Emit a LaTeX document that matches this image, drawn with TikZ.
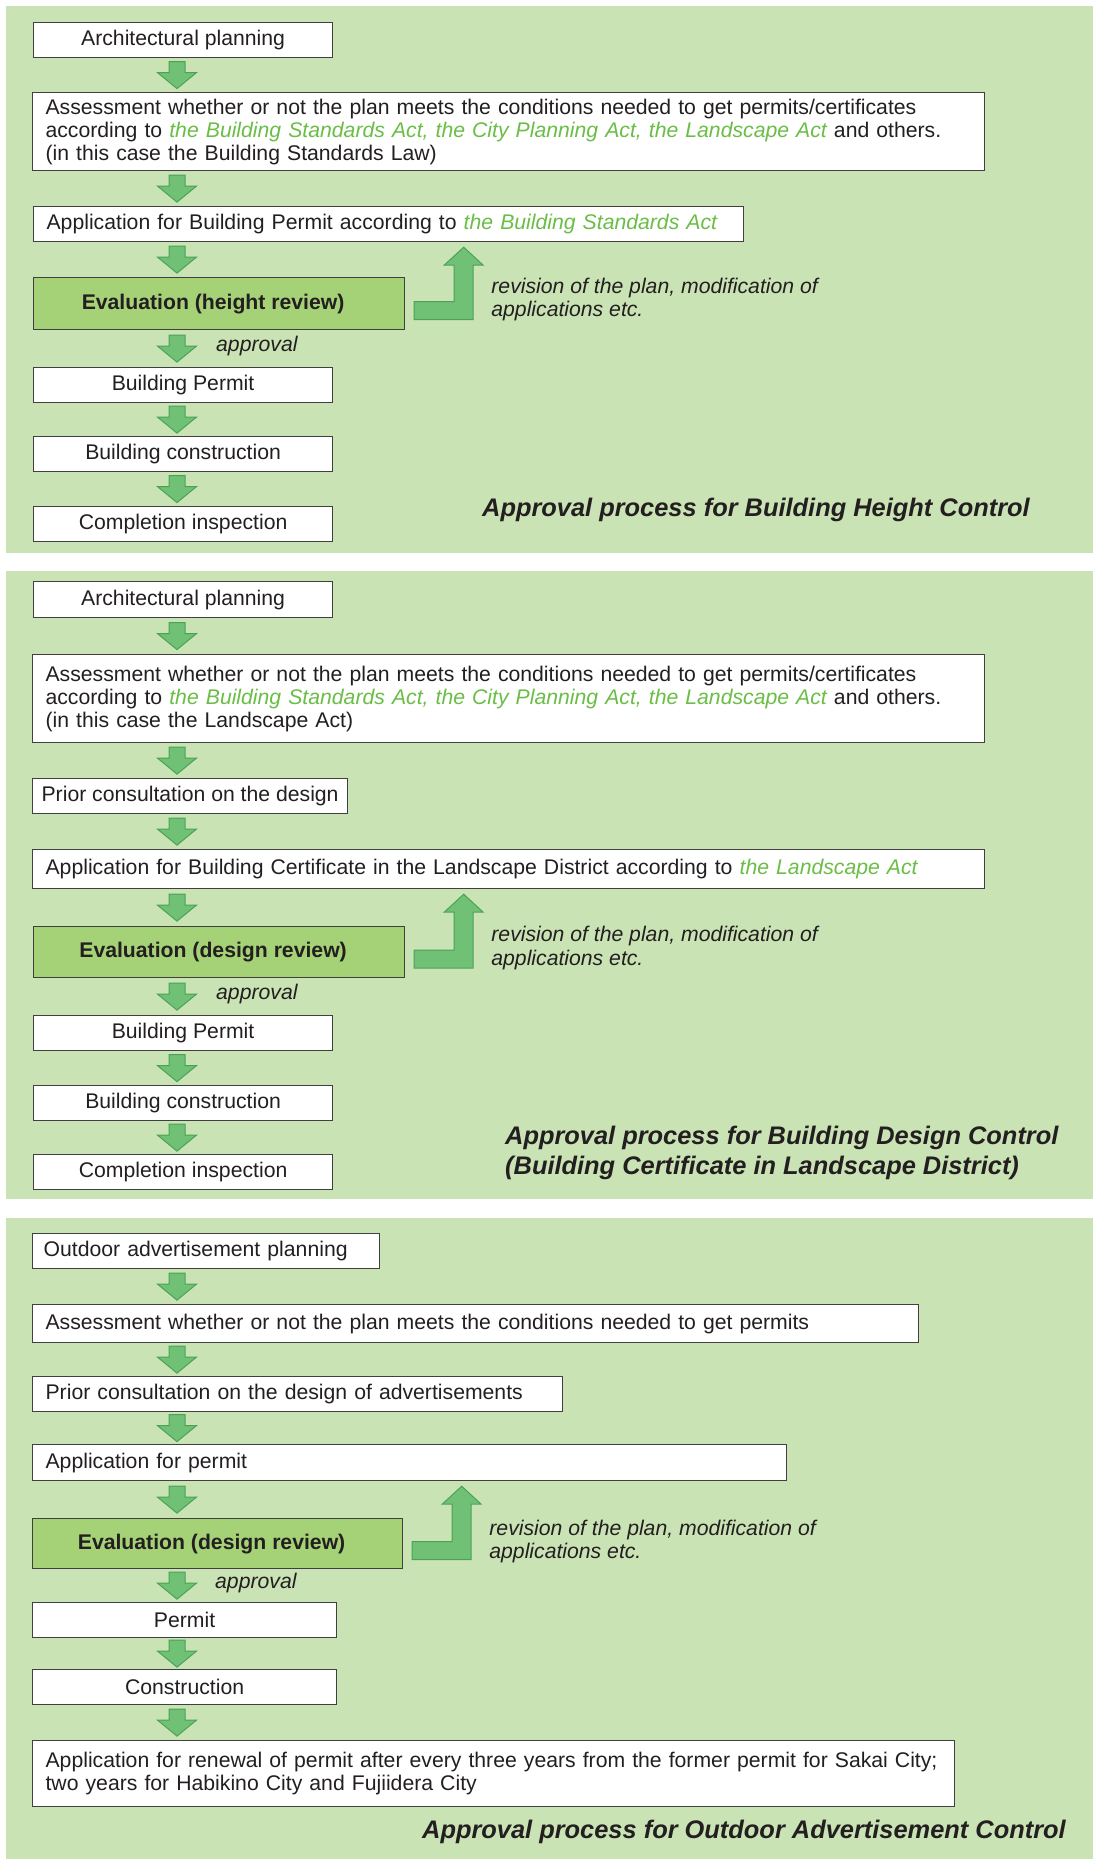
\documentclass[tikz,border=0pt]{standalone}
\usepackage{fontspec}
\setmainfont{Liberation Sans}
\usepackage{tikz}
\usetikzlibrary{calc,positioning}
\definecolor{panelgreen}{RGB}{202,227,181}
\definecolor{evalgreen}{RGB}{166,210,119}
\definecolor{arrowfill}{RGB}{112,192,118}
\definecolor{arrowedge}{RGB}{74,163,84}
\definecolor{lawgreen}{RGB}{106,190,70}
\definecolor{inkgray}{RGB}{35,31,32}
\newcommand{\lawname}[1]{\textcolor{lawgreen}{\itshape #1}}

\begin{document}
\begin{tikzpicture}[x=1pt,y=-1pt]
      \useasboundingbox (0,0) rectangle (1093,1859);
      \begin{scope}
        \tikzstyle{panel} = [fill=panelgreen, draw=none]
        \tikzstyle{box} = [draw=black!75, line width=1.2pt, fill=white, text=inkgray, anchor=north west, inner sep=0pt, font=\fontsize{21.2}{23}\selectfont]
        \tikzstyle{lbox} = [box, align=left, inner xsep=13pt]
        \tikzstyle{evalbox} = [box, fill=evalgreen, font=\fontsize{21.2}{23}\selectfont\bfseries, execute at begin node={\hspace*{-12pt}}]
        \tikzstyle{note} = [inner sep=0pt, text=inkgray, anchor=west, align=left, font=\fontsize{21.2}{23.5}\selectfont\itshape]
        \tikzstyle{caption} = [note, font=\fontsize{25.4}{30}\selectfont\bfseries\itshape]
        \tikzstyle{flow} = [draw=arrowedge, fill=arrowfill, line width=1pt, line join=miter,
          to path={($(\tikztostart)!0.5!(\tikztotarget)$) ++(-8pt,13.5pt) -- ++(16pt,0pt) -- ++(0pt,-11pt)
            -- ++(11.5pt,0pt) -- ++(-19.5pt,-16pt) -- ++(-19.5pt,16pt) -- ++(11.5pt,0pt) -- cycle}]
        \tikzstyle{backflow} = [draw=arrowedge, fill=arrowfill, line width=1pt, line join=miter,
          to path={let \p1=(\tikztostart), \p2=(\tikztotarget) in
            (\x1+9pt,\y1+2pt) -- (\x1+49pt,\y1+2pt) -- (\x1+49pt,\y2-23pt) -- (\x1+39pt,\y2-23pt)
            -- (\x1+58.5pt,\y2-5pt) -- (\x1+78pt,\y2-23pt) -- (\x1+68pt,\y2-23pt)
            -- (\x1+68pt,\y1-16pt) -- (\x1+9pt,\y1-16pt) -- cycle}]

        \coordinate (ax) at (177,0);

        % height control
        \fill[panel] (6,6) rectangle (1093,553);
        \node[box, minimum width=299pt, minimum height=35pt] (plan1) at (33,22) {Architectural planning};
        \node[lbox, text width=926pt, minimum height=78pt] (check1) at (32,92) {Assessment whether or not the plan meets the conditions needed to get permits/certificates\\according to \lawname{the Building Standards Act, the City Planning Act, the Landscape Act} and others.\\(in this case the Building Standards Law)};
        \node[lbox, text width=684pt, minimum height=35pt] (apply1) at (33,206) {Application for Building Permit according to \lawname{the Building Standards Act}};
        \node[evalbox, minimum width=371pt, minimum height=52pt] (eval1) at (33,277) {Evaluation (height review)};
        \node[box, minimum width=299pt, minimum height=35pt] (permit1) at (33,367) {Building Permit};
        \node[box, minimum width=299pt, minimum height=35pt] (build1) at (33,436) {Building construction};
        \node[box, minimum width=299pt, minimum height=35pt] (done1) at (33,506) {Completion inspection};
        \node[note] (ok1) at (216,346) {approval};
        \node[note, right=86pt of eval1.east, yshift=4pt] (redo1) {revision of the plan, modification of\\applications etc.};
        \node[caption] (title1) at (482,510) {Approval process for Building Height Control};

        % design control
        \fill[panel] (6,571) rectangle (1093,1199);
        \node[box, minimum width=299pt, minimum height=36pt] (plan2) at (33,581) {Architectural planning};
        \node[lbox, text width=926pt, minimum height=88pt] (check2) at (32,654) {Assessment whether or not the plan meets the conditions needed to get permits/certificates\\according to \lawname{the Building Standards Act, the City Planning Act, the Landscape Act} and others.\\(in this case the Landscape Act)};
        \node[box, minimum width=315pt, minimum height=35pt] (consult2) at (32,778) {Prior consultation on the design};
        \node[lbox, text width=926pt, minimum height=39pt] (apply2) at (32,849) {Application for Building Certificate in the Landscape District according to \lawname{the Landscape Act}};
        \node[evalbox, minimum width=371pt, minimum height=51pt] (eval2) at (33,926) {Evaluation (design review)};
        \node[box, minimum width=299pt, minimum height=35pt] (permit2) at (33,1015) {Building Permit};
        \node[box, minimum width=299pt, minimum height=35pt] (build2) at (33,1085) {Building construction};
        \node[box, minimum width=299pt, minimum height=35pt] (done2) at (33,1154) {Completion inspection};
        \node[note] (ok2) at (216,994) {approval};
        \node[note, right=86pt of eval2.east, yshift=4pt] (redo2) {revision of the plan, modification of\\applications etc.};
        \node[caption] (title2) at (505,1153) {Approval process for Building Design Control\\(Building Certificate in Landscape District)};

        % outdoor advertisement control
        \fill[panel] (6,1218) rectangle (1093,1859);
        \node[lbox, inner xsep=11pt, text width=325pt, minimum height=35pt] (plan3) at (32,1233) {Outdoor advertisement planning};
        \node[lbox, text width=860pt, minimum height=38pt] (check3) at (32,1304) {Assessment whether or not the plan meets the conditions needed to get permits};
        \node[lbox, text width=504pt, minimum height=35pt] (consult3) at (32,1376) {Prior consultation on the design of advertisements};
        \node[lbox, text width=728pt, minimum height=36pt] (apply3) at (32,1444) {Application for permit};
        \node[evalbox, minimum width=370pt, minimum height=50pt] (eval3) at (32,1518) {Evaluation (design review)};
        \node[box, minimum width=304pt, minimum height=35pt] (permit3) at (32,1602) {Permit};
        \node[box, minimum width=304pt, minimum height=35pt] (build3) at (32,1669) {Construction};
        \node[lbox, text width=896pt, minimum height=66pt] (renew3) at (32,1740) {Application for renewal of permit after every three years from the former permit for Sakai City;\\two years for Habikino City and Fujiidera City};
        \node[note] (ok3) at (215,1583) {approval};
        \node[note, right=86pt of eval3.east, yshift=2pt] (redo3) {revision of the plan, modification of\\applications etc.};
        \node[caption] (title3) at (422,1832) {Approval process for Outdoor Advertisement Control};

        \path
        (plan1.south -| ax) edge[flow] (check1.north -| ax)
        (check1.south -| ax) edge[flow] (apply1.north -| ax)
        (apply1.south -| ax) edge[flow] (eval1.north -| ax)
        (eval1.south -| ax) edge[flow] (permit1.north -| ax)
        (permit1.south -| ax) edge[flow] (build1.north -| ax)
        (build1.south -| ax) edge[flow] (done1.north -| ax)
        (eval1.east) edge[backflow] (apply1.south)
        (plan2.south -| ax) edge[flow] (check2.north -| ax)
        (check2.south -| ax) edge[flow] (consult2.north -| ax)
        (consult2.south -| ax) edge[flow] (apply2.north -| ax)
        (apply2.south -| ax) edge[flow] (eval2.north -| ax)
        (eval2.south -| ax) edge[flow] (permit2.north -| ax)
        (permit2.south -| ax) edge[flow] (build2.north -| ax)
        (build2.south -| ax) edge[flow] (done2.north -| ax)
        (eval2.east) edge[backflow] (apply2.south)
        (plan3.south -| ax) edge[flow] (check3.north -| ax)
        (check3.south -| ax) edge[flow] (consult3.north -| ax)
        (consult3.south -| ax) edge[flow] (apply3.north -| ax)
        (apply3.south -| ax) edge[flow] (eval3.north -| ax)
        (eval3.south -| ax) edge[flow] (permit3.north -| ax)
        (permit3.south -| ax) edge[flow] (build3.north -| ax)
        (build3.south -| ax) edge[flow] (renew3.north -| ax)
        (eval3.east) edge[backflow] (apply3.south)
        ;
      \end{scope}
    \end{tikzpicture}
\end{document}
